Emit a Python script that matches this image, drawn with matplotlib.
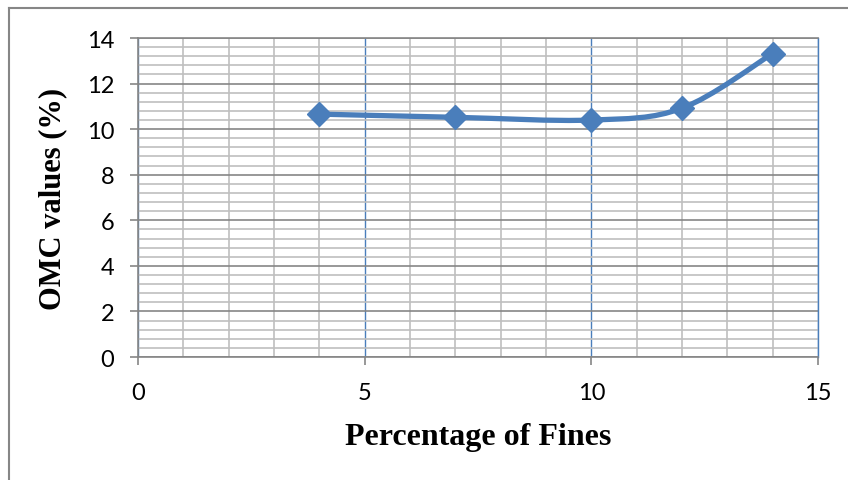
import numpy as np
import matplotlib
matplotlib.use('Agg')
import matplotlib.pyplot as plt
from matplotlib.path import Path
from matplotlib.patches import PathPatch
from matplotlib.lines import Line2D
from matplotlib.ticker import MultipleLocator

# values
fines = [4, 7, 10, 12, 14]
omc = [10.66, 10.52, 10.40, 10.92, 13.32]

blue = '#4A7EBB'
dark_grid = '#868686'
light_grid = '#BFBFBF'

fig = plt.figure(figsize=(8.48, 4.81), dpi=100)
ax = fig.add_axes([0.1627, 0.2557, 0.8019, 0.6632])

ax.set_xlim(0, 15)
ax.set_ylim(0, 14)
ax.xaxis.set_major_locator(MultipleLocator(5))
ax.xaxis.set_minor_locator(MultipleLocator(1))
ax.yaxis.set_major_locator(MultipleLocator(2))
ax.yaxis.set_minor_locator(MultipleLocator(0.4))

# gridlines, Excel style
ax.grid(which='minor', color=light_grid, linewidth=1.2)
ax.grid(which='major', axis='y', color=dark_grid, linewidth=1.2)
ax.grid(which='major', axis='x', color=blue, linewidth=1.0)
ax.set_axisbelow(True)

for side in ['left', 'bottom', 'top']:
    ax.spines[side].set_color(dark_grid)
    ax.spines[side].set_linewidth(1.2)
ax.spines['right'].set_color(blue)
ax.spines['right'].set_linewidth(1.0)

ax.tick_params(which='major', length=6, width=1.2, color=dark_grid,
               labelsize=17)
ax.tick_params(which='minor', length=0)
ax.tick_params(axis='x', pad=12)
ax.tick_params(axis='y', pad=11)
for lab in ax.get_xticklabels() + ax.get_yticklabels():
    lab.set_family('Lato')

# smoothed line like Excel (catmull-rom as bezier segments)
verts = [(fines[0], omc[0])]
codes = [Path.MOVETO]
n = len(fines)
for i in range(n - 1):
    p0 = np.array([fines[max(i - 1, 0)], omc[max(i - 1, 0)]])
    p1 = np.array([fines[i], omc[i]])
    p2 = np.array([fines[i + 1], omc[i + 1]])
    p3 = np.array([fines[min(i + 2, n - 1)], omc[min(i + 2, n - 1)]])
    c1 = p1 + (p2 - p0) / 6
    c2 = p2 - (p3 - p1) / 6
    verts += [tuple(c1), tuple(c2), tuple(p2)]
    codes += [Path.CURVE4] * 3
ax.add_patch(PathPatch(Path(verts, codes), facecolor='none', edgecolor=blue,
                       linewidth=3.8, capstyle='round', joinstyle='round', zorder=3))
ax.plot(fines, omc, linestyle='none', marker='D', markersize=12,
        color=blue, zorder=4)

ax.set_xlabel('Percentage of Fines', family='Liberation Serif', weight='bold',
              fontsize=23, labelpad=14)
ax.set_ylabel('OMC values (%)', family='Liberation Serif', weight='bold',
              fontsize=22, labelpad=14)

# chart area border (left and top only visible)
fig.add_artist(Line2D([9 / 848, 9 / 848], [0, 1 - 9 / 481],
                      color=dark_grid, linewidth=1.5))
fig.add_artist(Line2D([9 / 848, 1], [1 - 9 / 481, 1 - 9 / 481],
                      color=dark_grid, linewidth=1.5))

fig.savefig('out.png', dpi=100)
